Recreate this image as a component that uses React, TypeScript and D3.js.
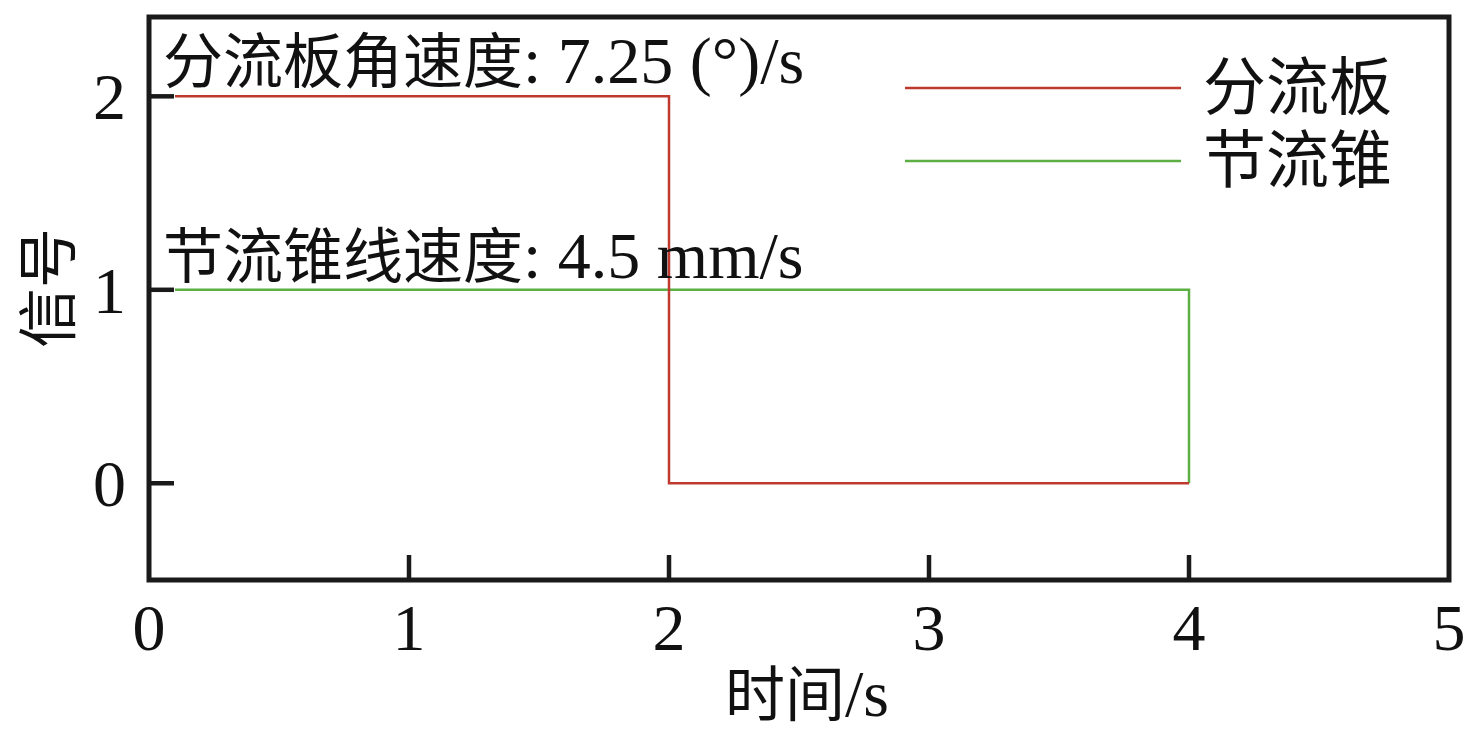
import React from "react";
import * as d3 from "d3";

const xTicks = [0, 1, 2, 3, 4, 5];
const yTicks = [0, 1, 2];
const redT = [0.1, 2, 2, 4];
const redV = [2, 2, 0, 0];
const greenT = [0.1, 4, 4];
const greenV = [1, 1, 0];
const seriesNames = ["分流板", "节流锥"];
const seriesColors = ["#c0392f", "#5cb043"];
const annotations = ["分流板角速度: 7.25 (°)/s", "节流锥线速度: 4.5 mm/s"];
const annotationY = [2.07, 1.06];

const W = 1476, H = 739;
const L = 149, R = 1449, T = 17, B = 580;
const FONT = "'Liberation Serif', 'Times New Roman', 'Noto Sans CJK SC', serif";
const CJK_SIZE = 60;
const LAT_SIZE = 66;

function Mixed({ text, cjk = CJK_SIZE, lat = LAT_SIZE }: { text: string; cjk?: number; lat?: number }) {
  const runs: { s: string; c: boolean }[] = [];
  for (const ch of text) {
    const c = /[\u3400-\u9fff]/.test(ch);
    if (runs.length && runs[runs.length - 1].c === c) runs[runs.length - 1].s += ch;
    else runs.push({ s: ch, c });
  }
  return (
    <>
      {runs.map((r, i) => (
        <tspan key={i} fontSize={r.c ? cjk : lat} fontFamily={r.c ? "'Noto Sans CJK SC', sans-serif" : FONT}>{r.s}</tspan>
      ))}
    </>
  );
}

export default function App() {
  const x = d3.scaleLinear().domain([0, 5]).range([L, R]);
  const y = d3.scaleLinear().domain([-0.5, 2.41]).range([B, T]);
  const line = d3.line<[number, number]>().x(d => x(d[0])).y(d => y(d[1]));
  const red = redT.map((t, i) => [t, redV[i]] as [number, number]);
  const green = greenT.map((t, i) => [t, greenV[i]] as [number, number]);
  const tickLen = 25;
  return (
    <svg width={W} height={H} style={{ position: "absolute", left: 0, top: 0, background: "#fff" }} fontFamily={FONT}>
      <rect x={0} y={0} width={W} height={H} fill="#fff" />
      <path d={line(green) || ""} fill="none" stroke={seriesColors[1]} strokeWidth={2.5} />
      <path d={line(red) || ""} fill="none" stroke={seriesColors[0]} strokeWidth={2.5} />
      {xTicks.filter(t => t > 0 && t < 5).map(t => (
        <line key={"xt" + t} x1={x(t)} x2={x(t)} y1={B} y2={B - tickLen} stroke="#1a1a1a" strokeWidth={4.5} />
      ))}
      {yTicks.map(t => (
        <line key={"yt" + t} x1={L} x2={L + tickLen} y1={y(t)} y2={y(t)} stroke="#1a1a1a" strokeWidth={4.5} />
      ))}
      <rect x={L} y={T} width={R - L} height={B - T} fill="none" stroke="#1a1a1a" strokeWidth={5} />
      {xTicks.map(t => (
        <text key={"xl" + t} x={x(t)} y={650} textAnchor="middle" fontSize={LAT_SIZE} fill="#111">{t}</text>
      ))}
      {yTicks.map(t => (
        <text key={"yl" + t} x={126} y={y(t) + 23} textAnchor="end" fontSize={LAT_SIZE} fill="#111">{t}</text>
      ))}
      <text x={807} y={716} textAnchor="middle" fill="#111"><Mixed text="时间/s" /></text>
      <text transform={`translate(70,${288}) rotate(-90)`} textAnchor="middle" fill="#111"><Mixed text="信号" /></text>
      {annotations.map((a, i) => (
        <text key={"an" + i} x={163} y={y(annotationY[i])} fill="#111"><Mixed text={a} /></text>
      ))}
      {seriesNames.map((n, i) => (
        <g key={"lg" + i}>
          <line x1={905} x2={1181} y1={88 + i * 73} y2={88 + i * 73} stroke={seriesColors[i]} strokeWidth={2.5} />
          <text x={1203} y={88 + i * 73 + 21} fill="#111"><Mixed text={n} cjk={63} /></text>
        </g>
      ))}
    </svg>
  );
}
